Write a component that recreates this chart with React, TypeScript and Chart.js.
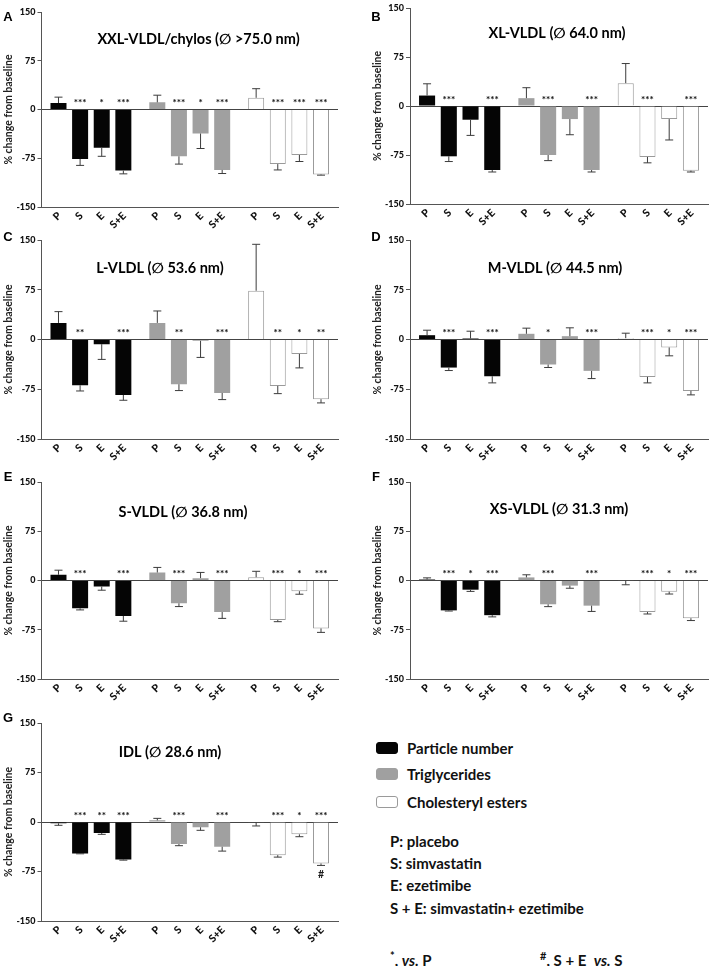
import React, { useEffect, useRef } from 'react';
import { Chart, registerables } from 'chart.js';
Chart.register(...registerables);

// ---------- DATA ----------
const TREATMENTS = ['P', 'S', 'E', 'S+E'];
const MEASURES = ['Particle number', 'Triglycerides', 'Cholesteryl esters'];
const Y_TICKS = [-150, -75, 0, 75, 150];

// rows = measures (particle number, triglycerides, cholesteryl esters); columns = P, S, E, S+E
const A_MEAN = [[10, -76, -59, -94], [11, -72, -37, -93], [18, -84, -70, -100]];
const A_ERR = [[9, 10, 13, 5], [11, 12, 23, 5.5], [14, 9, 10, 1]];
const A_STARS = [['', '***', '*', '***'], ['', '***', '*', '***'], ['', '***', '***', '***']];

const B_MEAN = [[16, -77, -21, -98], [12, -75, -20, -98], [35, -78, -20, -99]];
const B_ERR = [[18, 8, 24, 3], [16, 8.6, 24, 3], [30, 9, 32, 2]];
const B_STARS = [['', '***', '', '***'], ['', '***', '', '***'], ['', '***', '', '***']];

const C_MEAN = [[25, -69, -7, -83.6], [25, -67.4, -2, -80.6], [73.5, -70, -21.8, -90]];
const C_ERR = [[17, 8.6, 23, 8], [18, 9.6, 25, 10], [70, 11.6, 21, 5.6]];
const C_STARS = [['', '**', '', '***'], ['', '**', '', '***'], ['', '**', '*', '**']];

const D_MEAN = [[6.5, -42.3, 1.5, -55.4], [8.6, -37.7, 5, -47.3], [2, -56.4, -12, -77.5]];
const D_ERR = [[7.5, 4.5, 11, 10], [8.5, 4.5, 12.6, 11.6], [7.5, 9, 12.6, 6]];
const D_STARS = [['', '***', '', '***'], ['', '*', '', '***'], ['', '***', '*', '***']];

const E_MEAN = [[8.7, -42.3, -9.2, -54], [12.2, -34.7, 3.6, -48], [5, -60.2, -16.3, -73]];
const E_ERR = [[7, 2.5, 5.6, 8], [7.7, 5, 8.7, 9.7], [9, 2.5, 4.6, 6]];
const E_STARS = [['', '***', '', '***'], ['', '***', '', '***'], ['', '***', '*', '***']];

const F_MEAN = [[1.5, -45.5, -14, -52.8], [4.7, -36.2, -7.8, -38.3], [-0.5, -48, -17, -57.4]];
const F_ERR = [[2.5, 1, 2.6, 2.6], [4, 3.6, 4, 8.8], [6, 3, 3.6, 3.6]];
const F_STARS = [['', '***', '*', '***'], ['', '***', '', '***'], ['', '***', '*', '***']];

const G_MEAN = [[-2, -47.6, -16.7, -56.8], [2.5, -33.4, -8, -37.5], [-0.5, -50.2, -18.7, -62.8]];
const G_ERR = [[3, 0.6, 2, 1], [3, 2.5, 4.6, 6.6], [5.5, 3, 3.6, 3]];
const G_STARS = [['', '***', '**', '***'], ['', '***', '', '***'], ['', '***', '*', '***']];
const G_HASH = [['', '', '', ''], ['', '', '', ''], ['', '', '', '#']];

const PANELS = [
  { letter: 'A', title: 'XXL-VLDL/chylos (\u2205 >75.0 nm)', mean: A_MEAN, err: A_ERR, stars: A_STARS, hash: null },
  { letter: 'B', title: 'XL-VLDL (\u2205 64.0 nm)', mean: B_MEAN, err: B_ERR, stars: B_STARS, hash: null },
  { letter: 'C', title: 'L-VLDL (\u2205 53.6 nm)', mean: C_MEAN, err: C_ERR, stars: C_STARS, hash: null },
  { letter: 'D', title: 'M-VLDL (\u2205 44.5 nm)', mean: D_MEAN, err: D_ERR, stars: D_STARS, hash: null },
  { letter: 'E', title: 'S-VLDL (\u2205 36.8 nm)', mean: E_MEAN, err: E_ERR, stars: E_STARS, hash: null },
  { letter: 'F', title: 'XS-VLDL (\u2205 31.3 nm)', mean: F_MEAN, err: F_ERR, stars: F_STARS, hash: null },
  { letter: 'G', title: 'IDL (\u2205 28.6 nm)', mean: G_MEAN, err: G_ERR, stars: G_STARS, hash: G_HASH },
];

// ---------- LAYOUT / STYLE ----------
const FONT = "Lato, 'DejaVu Sans', sans-serif";
const COLS = [
  { cx: 0, w: 355, padLeft: 0, yW: 41.5, padRight: 17 },
  { cx: 355, w: 354, padLeft: 14, yW: 41, padRight: 1 },
];
const GEO = [
  { col: 0, top: 12, h: 195, lx: 8, ly: 17, tdx: 157, tdy: 27 },
  { col: 1, top: 8, h: 196, lx: 376, ly: 17, tdx: 147, tdy: 25 },
  { col: 0, top: 240, h: 199, lx: 8, ly: 237, tdx: 118.5, tdy: 28 },
  { col: 1, top: 240, h: 199, lx: 376, ly: 237, tdx: 145, tdy: 28 },
  { col: 0, top: 482, h: 197, lx: 8, ly: 477, tdx: 141.5, tdy: 30 },
  { col: 1, top: 482, h: 197, lx: 376, ly: 477, tdx: 149, tdy: 27 },
  { col: 0, top: 723, h: 198, lx: 8, ly: 718, tdx: 128.5, tdy: 29 },
];
const PAD_TOP = 12;
const X_AXIS_H = 30;
const FILL = ['#050505', '#a0a0a0', '#ffffff'];
const EDGE = ['#050505', '#a0a0a0', '#9a9a9a'];
const EDGE_W = [0, 0, 1];

function makeOverlay(panel: any, geo: any, col: any, cTop: number) {
  return {
    id: 'overlay' + panel.letter,
    afterDatasetsDraw(chart: any) {
      const ctx = chart.ctx;
      const ys = chart.scales.y;
      const area = chart.chartArea;
      const zeroY = ys.getPixelForValue(0);
      ctx.save();
      TREATMENTS.forEach((tr, t) => {
        const meta = chart.getDatasetMeta(t);
        meta.data.forEach((bar: any, m: number) => {
          const v = panel.mean[m][t];
          const e = panel.err[m][t];
          const end = v < 0 ? v - e : v + e;
          const y0 = ys.getPixelForValue(v);
          const y1 = ys.getPixelForValue(end);
          ctx.strokeStyle = '#3c3c3c';
          ctx.lineWidth = 1;
          ctx.beginPath();
          ctx.moveTo(bar.x, y0);
          ctx.lineTo(bar.x, y1);
          ctx.moveTo(bar.x - 4, y1);
          ctx.lineTo(bar.x + 4, y1);
          ctx.stroke();
          const s = panel.stars[m][t];
          if (s) {
            ctx.fillStyle = '#1a1a1a';
            ctx.font = `900 10px ${FONT}`;
            ctx.textAlign = 'center';
            ctx.textBaseline = 'alphabetic';
            ctx.fillText(s, bar.x, zeroY - 3.5);
          }
          const h = panel.hash ? panel.hash[m][t] : '';
          if (h) {
            ctx.fillStyle = '#1a1a1a';
            ctx.font = `bold 10.5px ${FONT}`;
            ctx.textAlign = 'center';
            ctx.textBaseline = 'alphabetic';
            ctx.fillText(h, bar.x, y1 + 13);
          }
          ctx.save();
          ctx.translate(bar.x + 1, area.bottom + 7);
          ctx.rotate(-Math.PI / 4);
          ctx.textAlign = 'right';
          ctx.textBaseline = 'middle';
          ctx.font = `900 10.5px ${FONT}`;
          ctx.fillStyle = '#111';
          ctx.fillText(tr, 0, 0);
          ctx.restore();
        });
      });
      ctx.fillStyle = '#000';
      ctx.font = `bold 14.5px ${FONT}`;
      ctx.textAlign = 'center';
      ctx.textBaseline = 'middle';
      ctx.fillText(panel.title, area.left + geo.tdx, area.top + geo.tdy);
      ctx.font = "bold 13px 'Liberation Sans', Arial, sans-serif";
      ctx.fillText(panel.letter, geo.lx - col.cx, geo.ly - cTop);
      ctx.restore();
    },
  };
}

function Panel({ panel, geo }: { panel: any; geo: any }) {
  const ref = useRef<HTMLCanvasElement>(null);
  const col = COLS[geo.col];
  const cTop = geo.top - PAD_TOP;
  const cH = PAD_TOP + geo.h + X_AXIS_H;
  useEffect(() => {
    if (!ref.current) return;
    const datasets = TREATMENTS.map((tr, t) => ({
      label: tr,
      data: MEASURES.map((_, m) => panel.mean[m][t]),
      backgroundColor: FILL,
      borderColor: EDGE,
      borderWidth: EDGE_W,
      categoryPercentage: 0.875,
      barPercentage: 0.74,
    }));
    const chart = new Chart(ref.current, {
      type: 'bar',
      data: { labels: MEASURES, datasets },
      options: {
        animation: false,
        responsive: true,
        maintainAspectRatio: false,
        layout: { padding: { top: PAD_TOP, left: col.padLeft, right: col.padRight, bottom: 0 } },
        plugins: { legend: { display: false }, tooltip: { enabled: false } },
        scales: {
          x: {
            ticks: { display: false },
            grid: { display: false },
            border: { color: '#555', width: 1 },
            afterFit: (s: any) => { s.height = X_AXIS_H; },
          },
          y: {
            min: Y_TICKS[0],
            max: Y_TICKS[Y_TICKS.length - 1],
            afterBuildTicks: (s: any) => { s.ticks = Y_TICKS.map((v) => ({ value: v })); },
            ticks: { color: '#111', padding: 2, font: { family: FONT, weight: '900', size: 9 } },
            grid: {
              color: (c: any) => (c.tick && c.tick.value === 0 ? '#444' : 'rgba(0,0,0,0)'),
              tickColor: '#555',
              tickLength: 4,
              lineWidth: 1,
            },
            border: { color: '#555', width: 1 },
            title: {
              display: true,
              text: '% change from baseline',
              color: '#222',
              font: { family: FONT, weight: 'bold', size: 10.5 },
              padding: { top: 2, bottom: 0 },
            },
            afterFit: (s: any) => { s.width = col.yW; },
          },
        },
      },
      plugins: [makeOverlay(panel, geo, col, cTop)],
    } as any);
    return () => chart.destroy();
  }, []);
  return (
    <div style={{ position: 'absolute', left: col.cx, top: cTop, width: col.w, height: cH }}>
      <canvas ref={ref} />
    </div>
  );
}

const LEGEND_ITEMS = [
  { label: MEASURES[0], cy: 748 },
  { label: MEASURES[1], cy: 774 },
  { label: MEASURES[2], cy: 802 },
];
const ABBREV = [
  { text: 'P: placebo', cy: 841 },
  { text: 'S: simvastatin', cy: 863.5 },
  { text: 'E: ezetimibe', cy: 885 },
  { text: 'S + E: simvastatin+ ezetimibe', cy: 908 },
];

const txt = (top: number, left: number): React.CSSProperties => ({
  position: 'absolute',
  left,
  top,
  fontFamily: FONT,
  fontWeight: 'bold',
  fontSize: 15,
  lineHeight: '18px',
  whiteSpace: 'nowrap',
  color: '#111',
});

export default function App() {
  return (
    <div style={{ position: 'absolute', left: 0, top: 0, width: 709, height: 966, background: '#fff', overflow: 'hidden' }}>
      {PANELS.map((p, i) => (
        <Panel key={p.letter} panel={p} geo={GEO[i]} />
      ))}
      {LEGEND_ITEMS.map((it, i) => (
        <React.Fragment key={it.label}>
          <div
            style={{
              position: 'absolute',
              left: 376,
              top: it.cy - 6,
              width: 22,
              height: 12,
              boxSizing: 'border-box',
              background: FILL[i],
              border: `1px solid ${EDGE[i]}`,
              borderRadius: 3,
            }}
          />
          <div style={txt(it.cy - 9.4, 407)}>{it.label}</div>
        </React.Fragment>
      ))}
      {ABBREV.map((a) => (
        <div key={a.text} style={txt(a.cy - 9.4, 390)}>{a.text}</div>
      ))}
      <div style={txt(956 - 9.4, 390)}>
        <sup style={{ fontSize: 11 }}>*</sup>, <i>vs.</i> P
      </div>
      <div style={txt(956 - 9.4, 540)}>
        <sup style={{ fontSize: 11 }}>#</sup>, S + E&nbsp; <i>vs.</i> S
      </div>
    </div>
  );
}
